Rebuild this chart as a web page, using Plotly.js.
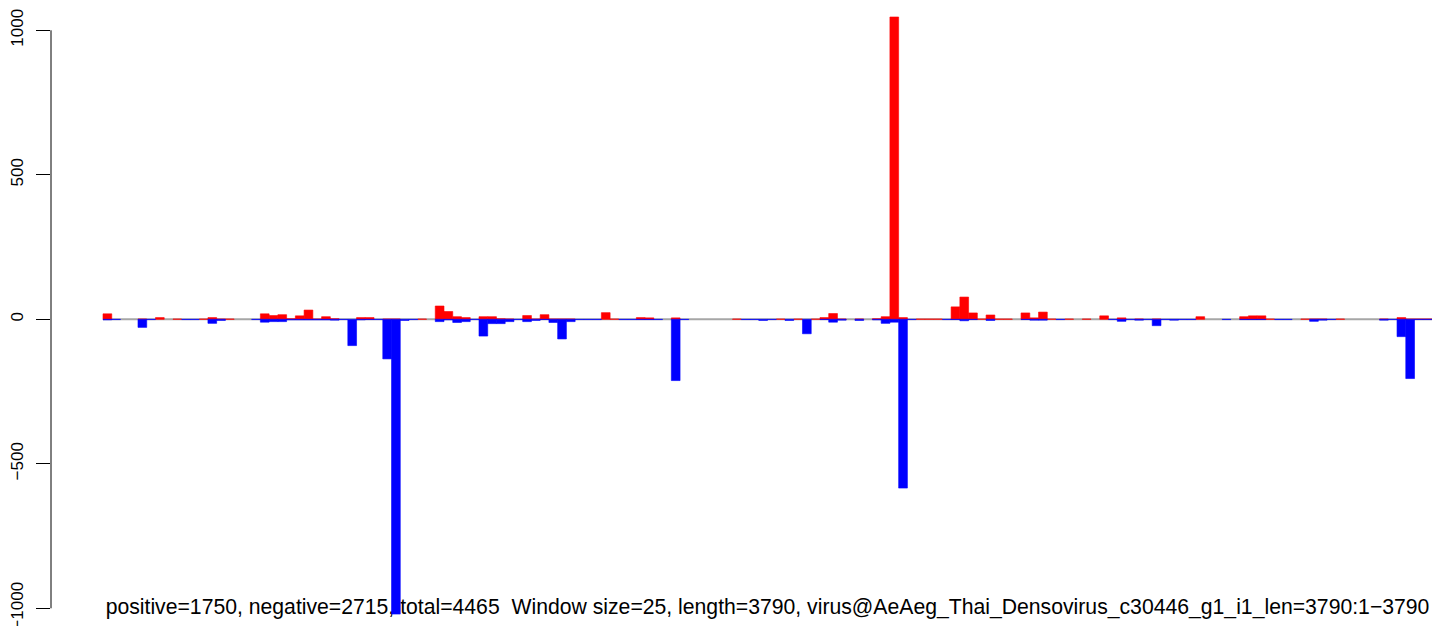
<!DOCTYPE html>
<html>
<head>
<meta charset="utf-8">
<script src="https://cdn.plot.ly/plotly-3.0.1.min.js"></script>
<style>html,body{margin:0;padding:0;background:#fff;}#chart{width:1444px;height:626px;}</style>
</head>
<body>
<div id="chart"></div>
<script>
// window index (window size 25 over length 3790)
const windows = Array.from({length: 152}, (_, i) => i);
// positive-strand counts per window (red)
const positive = [
19,0,0,0,1,0,6,0,1,0, 0,1,6,1,1,0,0,0,19,13,
16,2,12,32,1,9,2,0,0,6, 6,0,1,1,0,0,1,0,46,27,
9,6,0,9,9,2,1,0,13,1, 16,1,1,1,0,0,0,23,1,0,
0,6,5,0,0,5,0,0,0,0, 0,0,1,0,0,0,0,1,0,1,
0,1,6,20,1,0,1,0,2,9, 1046,6,0,1,1,1,0,43,77,22,
1,15,1,1,0,22,5,25,1,0, 1,0,1,0,12,0,5,0,1,0,
1,0,0,0,0,9,0,0,0,0, 9,12,12,1,0,0,0,1,1,1,
0,1,0,0,0,0,1,0,6,1, 1,1
];
// negative-strand counts per window (blue, drawn downward)
const negative = [
-2,-1,0,0,-28,-1,0,0,0,-1, -1,0,-14,-4,0,0,0,-1,-10,-8,
-8,-2,-2,-2,-2,-2,-3,-1,-91,-2, -1,-1,-137,-1020,-4,-1,0,0,-8,-2,
-11,-8,-1,-58,-15,-15,-8,-1,-8,-4, -1,-11,-68,-8,-1,-1,-1,0,0,-1,
-1,-1,-1,-1,0,-212,-1,0,0,0, 0,0,0,-1,-1,-4,-1,0,-4,0,
-50,0,-1,-10,-3,0,-4,0,-2,-14, -10,-584,-1,0,0,0,-1,-1,-5,-1,
0,-4,0,0,0,-1,-3,-3,0,-1, 0,0,0,0,0,-1,-7,-1,-3,-1,
-22,-1,-3,-1,-1,0,0,0,-1,0, -1,-1,-1,0,-1,-1,0,0,-7,-3,
-1,0,0,0,0,0,-3,-1,-60,-205, -1,-1
];
const yTicks = [-1000, -500, 0, 500, 1000];
const yTickText = ['\u22121000', '\u2212500', '0', '500', '1000'];
const caption = 'positive=1750, negative=2715, total=4465\u00a0 Window size=25, length=3790, virus@AeAeg_Thai_Densovirus_c30446_g1_i1_len=3790:1\u22123790';

const FONT = 'Liberation Sans, Arial, Helvetica, sans-serif';
const nBars = windows.length;
const Y_RANGE = [-1061.2, 1104.8];
// caption sits just above the bottom edge of the plot, drawn beneath the bars
const captionBase = -1047;

const lineW = v => v.map(d => (d === 0 ? 0 : 0.6));

const traces = [
  {type: 'bar', x: [(nBars - 1) / 2], y: [0.001], base: [captionBase], width: [nBars],
   marker: {color: 'rgba(0,0,0,0)', line: {width: 0}},
   text: [caption], textposition: 'outside', constraintext: 'none', cliponaxis: false,
   textfont: {family: FONT, size: 21.2, color: '#000'}, hoverinfo: 'skip'},
  {type: 'bar', x: windows, y: positive, width: 1,
   marker: {color: '#ff0000', line: {color: '#ff0000', width: lineW(positive)}}, hoverinfo: 'x+y'},
  {type: 'bar', x: windows, y: negative, width: 1,
   marker: {color: '#0000ff', line: {color: '#0000ff', width: lineW(negative)}}, hoverinfo: 'x+y'}
];

const layout = {
  width: 1444, height: 626,
  margin: {l: 51, r: 12, t: 0, b: 0, pad: 0},
  paper_bgcolor: '#fff', plot_bgcolor: '#fff',
  showlegend: false,
  barmode: 'overlay', bargap: 0,
  font: {family: FONT, size: 17, color: '#000'},
  xaxis: {range: [-6.448, nBars - 0.5], showgrid: false, zeroline: false, showline: false,
          showticklabels: false, ticks: ''},
  yaxis: {range: Y_RANGE, showgrid: false, zeroline: false, showline: false,
          tickmode: 'array', tickvals: yTicks, ticktext: yTickText,
          ticks: 'outside', ticklen: 14, tickwidth: 1, tickcolor: '#000',
          tickangle: -90, ticklabelstandoff: 6, ticklabeloverflow: 'allow',
          tickfont: {family: FONT, size: 17, color: '#000'}},
  shapes: [
    {type: 'line', xref: 'x', yref: 'y', x0: -0.5, x1: nBars - 0.5, y0: 0, y1: 0,
     line: {color: '#a6a6a6', width: 2}, layer: 'below'},
    {type: 'line', xref: 'paper', yref: 'y', x0: 0, x1: 0, y0: yTicks[0], y1: yTicks[yTicks.length - 1],
     line: {color: '#000', width: 1}}
  ]
};

Plotly.newPlot('chart', traces, layout, {displayModeBar: false, staticPlot: true});
</script>
</body>
</html>
